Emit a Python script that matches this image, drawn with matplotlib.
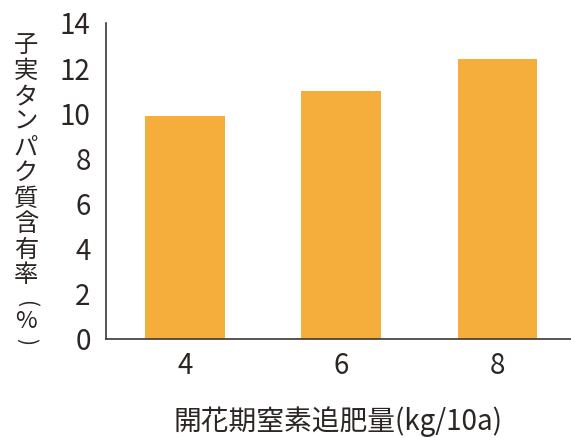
import matplotlib
matplotlib.use("Agg")
import matplotlib.pyplot as plt

plt.rcParams['font.family'] = ['Noto Sans CJK JP', 'DejaVu Sans']

categories = ["4", "6", "8"]
values = [9.9, 11.0, 12.4]
yticks = [0, 2, 4, 6, 8, 10, 12, 14]
xlabel = "開花期窒素追肥量(kg/10a)"
ylabel_main = "子実タンパク質含有率"
ylabel_unit = ["(", "%", ")"]

bar_color = "#F5AD3B"
text_color = "#2b2523"
spine_color = "#3d3734"

W, H = 571, 438
fig = plt.figure(figsize=(W/100, H/100), dpi=100)
ax = fig.add_axes([106/W, 99/H, 465/W, 316/H])

x = range(len(categories))
ax.bar(x, values, width=0.51, color=bar_color)
ax.set_xlim(-0.505, 2.47)
ax.set_ylim(0, 14)
ax.set_yticks(yticks)
ax.set_xticks(list(x))
ax.set_xticklabels(categories)

for s in ["top", "right"]:
    ax.spines[s].set_visible(False)
for s in ["left", "bottom"]:
    ax.spines[s].set_color(spine_color)
    ax.spines[s].set_linewidth(1.2)

ax.tick_params(axis="both", length=0, labelsize=20, colors=text_color)
ax.tick_params(axis="y", pad=11)
ax.tick_params(axis="x", pad=9)

fig.text(338/W, 1 - 422/H, xlabel, ha="center", va="center",
         fontsize=20, color=text_color)

# vertical y label, one character per line
xc = 26 / W
pitch = 25.6
for i, ch in enumerate(ylabel_main):
    yc = 45 + pitch * i
    fig.text(xc, 1 - yc / H, ch, ha="center", va="center",
             fontsize=17.5, color=text_color)
unit_y = [304, 322, 341]
unit_rot = [-90, 0, -90]
unit_fs = [15, 17, 15]
for ch, yc, rot, fs in zip(ylabel_unit, unit_y, unit_rot, unit_fs):
    fig.text(xc, 1 - yc / H, ch, ha="center", va="center", rotation=rot,
             fontsize=fs, color=text_color)

fig.savefig("out.png", dpi=100)
